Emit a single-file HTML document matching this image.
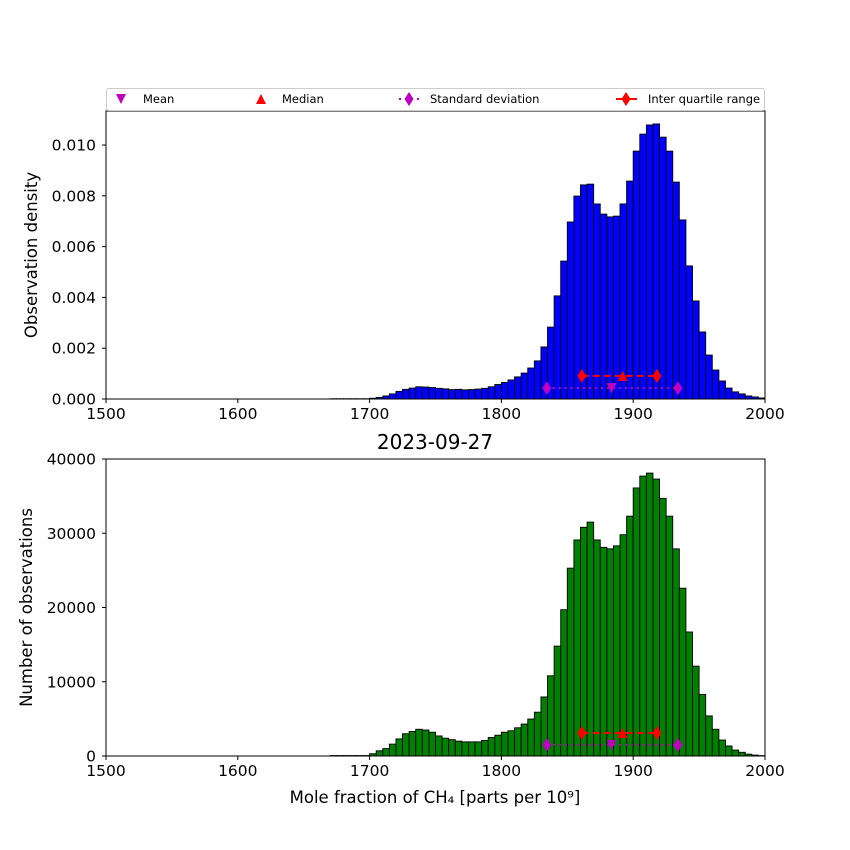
<!DOCTYPE html>
<html><head><meta charset="utf-8"><style>
body{margin:0;background:#fff}
svg{display:block;font-family:"DejaVu Sans","Liberation Sans",sans-serif}
</style></head><body>
<svg id="c" width="850" height="850" xmlns="http://www.w3.org/2000/svg"></svg>
<script>
const binStarts=[];for(let b=1670;b<2000;b+=5)binStarts.push(b);
const densityValues=[0.00001,0.00001,0.00001,0.00001,0.00001,0.00001,
0.00003,0.00006,0.00012,0.0002,0.0003,0.00038,0.00043,0.00048,0.00047,0.00045,0.00042,0.0004,0.00037,0.00038,0.00036,0.00037,0.00039,0.00042,0.00048,0.00057,0.00065,0.00075,0.00087,0.00102,
0.00122,0.0015,0.00205,0.00283,0.00406,0.00543,0.00697,0.00799,0.00843,0.00846,
0.00768,0.00728,0.00717,0.0072,0.00768,0.00858,0.00976,0.01043,0.01079,0.01083,
0.01031,0.00976,0.00854,0.00705,0.00524,0.00386,0.00264,0.00173,0.00114,0.00071,0.00043,0.00028,0.0002,0.00012,0.00008,0.00004];
const countValues=[60,60,60,60,60,60,
300,700,1000,1600,2300,3000,3300,3600,3500,3200,2700,2400,2200,2000,1900,1900,1900,2100,2500,2800,3200,3400,3800,4300,
4980,5900,7950,10800,14800,19700,25300,29100,30800,31500,
29100,28100,27900,28300,29800,32300,36100,37700,38100,37300,
34700,32300,27900,22600,16700,12100,8300,5400,3600,2150,1350,800,500,250,120,50];
const xTicks=[1500,1600,1700,1800,1900,2000];
const densityTicks=[0,0.002,0.004,0.006,0.008,0.010];
const densityTickLabels=["0.000","0.002","0.004","0.006","0.008","0.010"];
const countTicks=[0,10000,20000,30000,40000];
const stats={mean:1883.5,median:1892,q1:1861,q3:1918,sdLo:1834.5,sdHi:1934};
const densityMarks={iqr:0.00091,sd:0.00043};
const countMarks={iqr:3100,sd:1500};

const NS="http://www.w3.org/2000/svg";
const svg=document.getElementById('c');
function el(tag,attrs,parent,text){const e=document.createElementNS(NS,tag);for(const k in attrs)e.setAttribute(k,attrs[k]);if(text!==undefined)e.textContent=text;(parent||svg).appendChild(e);return e;}
const X0=106,X1=765;
const xs=v=>X0+(v-1500)/500*(X1-X0);

function diamond(g,x,y,c){return el('path',{d:`M${x},${y-7}L${x+4.5},${y}L${x},${y+7}L${x-4.5},${y}Z`,fill:c},g);}
function triDown(g,x,y,c){return el('path',{d:`M${x-5},${y-5}L${x+5},${y-5}L${x},${y+5}Z`,fill:c},g);}
function triUp(g,x,y,c){return el('path',{d:`M${x-5},${y+5}L${x+5},${y+5}L${x},${y-5}Z`,fill:c},g);}

function panel(name,top,bot,ymax,vals,color,ticks,tickLabels,marks,ylabel){
  const ys=v=>bot-v/ymax*(bot-top);
  const g=el('g',{},svg);
  
  
  binStarts.forEach((b,i)=>{
    const r=el('rect',{x:xs(b),y:ys(vals[i]),width:xs(b+5)-xs(b),height:bot-ys(vals[i]),fill:color,stroke:'#000','stroke-width':0.9},g);
    
    
  });
  const yI=ys(marks.iqr),yS=ys(marks.sd);
  const sd=el('g',{},g);
  
  
  el('line',{x1:xs(stats.sdLo),x2:xs(stats.sdHi),y1:yS,y2:yS,stroke:'#bf00bf','stroke-width':2,'stroke-dasharray':'2,4'},sd);
  diamond(sd,xs(stats.sdLo),yS,'#bf00bf');diamond(sd,xs(stats.sdHi),yS,'#bf00bf');
  const mn=triDown(g,xs(stats.mean),yS,'#bf00bf');
  
  
  const iq=el('g',{},g);
  
  
  el('line',{x1:xs(stats.q1),x2:xs(stats.q3),y1:yI,y2:yI,stroke:'#f00','stroke-width':2,'stroke-dasharray':'7,4'},iq);
  diamond(iq,xs(stats.q1),yI,'#f00');diamond(iq,xs(stats.q3),yI,'#f00');
  const md=triUp(g,xs(stats.median),yI,'#f00');
  
  
  el('rect',{x:X0,y:top,width:X1-X0,height:bot-top,fill:'none',stroke:'#000','stroke-width':1},g);
  xTicks.forEach(t=>{el('line',{x1:xs(t),x2:xs(t),y1:bot,y2:bot+4,stroke:'#000'},g);
    const tx=el('text',{x:xs(t),y:bot+20,'text-anchor':'middle','font-size':15.5},g,t);
    
    });
  ticks.forEach((t,i)=>{el('line',{x1:X0-4,x2:X0,y1:ys(t),y2:ys(t),stroke:'#000'},g);
    const tx=el('text',{x:X0-10,y:ys(t)+5.5,'text-anchor':'end','font-size':15.5},g,tickLabels[i]);
    
    });
  const yl=el('text',{x:0,y:0,transform:`translate(${name==='density-panel'?37:32},${(top+bot)/2}) rotate(-90)`,'text-anchor':'middle','font-size':16.5},g,ylabel);
  
  
}
panel('density-panel',111,399,0.01134,densityValues,'#0000ff',densityTicks,densityTickLabels,densityMarks,'Observation density');
panel('count-panel',459,756,40000,countValues,'#008000',countTicks,countTicks.map(String),countMarks,'Number of observations');

const t=el('text',{x:435,y:449,'text-anchor':'middle','font-size':20},svg,'2023-09-27');


const xl=el('text',{x:435,y:803,'text-anchor':'middle','font-size':16.5},svg,'Mole fraction of CH₄ [parts per 10⁹]');



const lg=el('g',{},svg);


el('rect',{x:106.5,y:88.5,width:658,height:22,rx:2,fill:'#fff',stroke:'#ccc'},lg);
const e1=el('g',{},lg);
triDown(e1,121,99,'#bf00bf');el('text',{x:143,y:103,'font-size':11.5},e1,'Mean');
const e2=el('g',{},lg);
triUp(e2,261,99,'#f00');el('text',{x:282,y:103,'font-size':11.5},e2,'Median');
const e3=el('g',{},lg);
el('line',{x1:399,x2:420,y1:99,y2:99,stroke:'#bf00bf','stroke-width':2,'stroke-dasharray':'2,4'},e3);diamond(e3,409,99,'#bf00bf');
el('text',{x:430,y:103,'font-size':11.5},e3,'Standard deviation');
const e4=el('g',{},lg);
el('line',{x1:616,x2:637,y1:99,y2:99,stroke:'#f00','stroke-width':2},e4);diamond(e4,626,99,'#f00');
el('text',{x:648,y:103,'font-size':11.5},e4,'Inter quartile range');
</script>
</body></html>
